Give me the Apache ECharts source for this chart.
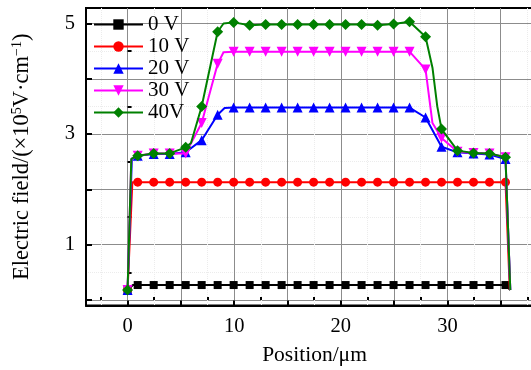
<!DOCTYPE html>
<html><head><meta charset="utf-8">
<script src="https://cdn.jsdelivr.net/npm/echarts@6/dist/echarts.min.js"></script>
<style>html,body{margin:0;padding:0;background:#fff}#c{width:531px;height:370px}</style>
</head><body><div id="c"></div>
<script>
// ---- data ----
const seriesNames = ['0 V', '10 V', '20 V', '30 V', '40V'];
const xMarks = [0, 0.95, 2.45, 3.95, 5.45, 6.95, 8.45, 9.95, 11.45, 12.95, 14.45, 15.95, 17.45, 18.95, 20.45, 21.95, 23.45, 24.95, 26.45, 27.95, 29.45, 30.95, 32.45, 33.95, 35.45];
const y0V  = [0.18, 0.27, 0.27, 0.27, 0.27, 0.27, 0.27, 0.27, 0.27, 0.27, 0.27, 0.27, 0.27, 0.27, 0.27, 0.27, 0.27, 0.27, 0.27, 0.27, 0.27, 0.27, 0.27, 0.27, 0.27];
const y10V = [0.18, 2.13, 2.13, 2.13, 2.13, 2.13, 2.13, 2.13, 2.13, 2.13, 2.13, 2.13, 2.13, 2.13, 2.13, 2.13, 2.13, 2.13, 2.13, 2.13, 2.13, 2.13, 2.13, 2.13, 2.13];
const y20V = [0.18, 2.61, 2.64, 2.64, 2.67, 2.89, 3.35, 3.48, 3.48, 3.48, 3.48, 3.48, 3.48, 3.48, 3.48, 3.48, 3.48, 3.48, 3.48, 3.30, 2.77, 2.67, 2.65, 2.63, 2.55];
const y30V = [0.18, 2.61, 2.65, 2.65, 2.65, 3.20, 4.27, 4.49, 4.49, 4.49, 4.49, 4.49, 4.49, 4.49, 4.49, 4.49, 4.49, 4.49, 4.49, 4.17, 2.93, 2.68, 2.66, 2.65, 2.58];
const y40V = [0.18, 2.61, 2.65, 2.65, 2.76, 3.50, 4.85, 5.02, 4.97, 4.98, 4.98, 4.98, 4.98, 4.98, 4.98, 4.98, 4.97, 4.99, 5.03, 4.76, 3.09, 2.70, 2.66, 2.65, 2.58];
// unmarked points along each curve
const extra0V  = [[0.5, 0.27], [35.9, 0.18]];
const extra10V = [[0.45, 2.13], [35.85, 0.18]];
const extra20V = [[0.4, 2.55], [9.1, 3.47], [35.9, 0.18]];
const extra30V = [[0.35, 2.55], [9.0, 4.48], [28.6, 3.2], [35.9, 0.18]];
const extra40V = [[0.35, 2.55], [5.95, 2.84], [9.0, 5.0], [28.6, 4.2], [29.05, 3.5], [35.9, 0.18]];
const xMajorTicks = [0, 5, 10, 15, 20, 25, 30, 35, 40];
const xMinorTicks = [-2.5, 2.5, 7.5, 12.5, 17.5, 22.5, 27.5, 32.5, 37.5];
const xTickLabels = [0, 10, 20, 30];
const yMajorTicks = [0, 1, 2, 3, 4, 5];
const yMinorTicks = [0.5, 1.5, 2.5, 3.5, 4.5];
const yTickLabels = [1, 3, 5];

const colors = ['#000000', '#ff0000', '#0000ff', '#ff00ff', '#008000'];
const symbols = ['rect', 'circle', 'triangle', 'path://M0,10 L-10,-8 L10,-8 Z', 'diamond'];
const symbolSizes = [8, 9, 10, 10, 11];
const yAll = [y0V, y10V, y20V, y30V, y40V];
const extras = [extra0V, extra10V, extra20V, extra30V, extra40V];

function buildData(ys, ex) {
  const pts = xMarks.map((x, i) => ({ value: [x, ys[i]] }));
  ex.forEach(p => pts.push({ value: p, symbol: 'none' }));
  pts.sort((a, b) => a.value[0] - b.value[0]);
  return pts;
}

const FONT = 'Liberation Serif';
const chart = echarts.init(document.getElementById('c'), null, { renderer: 'canvas' });
const series = seriesNames.map((n, k) => ({
  name: n, type: 'line', xAxisIndex: 0, yAxisIndex: 0,
  data: buildData(yAll[k], extras[k]),
  symbol: symbols[k], symbolSize: symbolSizes[k], showAllSymbol: true,
  lineStyle: { color: colors[k], width: 2 },
  itemStyle: { color: colors[k] },
  emphasis: { disabled: true }, animation: false, z: 3 + k
}));

chart.setOption({
  animation: false,
  grid: { left: 86, top: 8, width: 468, height: 297.5, outerBoundsMode: 'none', containLabel: false,
          show: true, borderColor: '#000', borderWidth: 2, backgroundColor: 'transparent' },
  legend: {
    orient: 'vertical', left: 88, top: 9, itemWidth: 49, itemHeight: 13, itemGap: 1,
    data: seriesNames,
    textStyle: { fontFamily: FONT, fontSize: 21, color: '#000', lineHeight: 20 }
  },
  xAxis: [{
    type: 'value', min: -3.9, max: 40, position: 'bottom',
    name: 'Position/μm', nameLocation: 'middle', nameGap: 39,
    nameTextStyle: { fontFamily: FONT, fontSize: 21.5, color: '#000', padding: [0, 11, 0, 0] },
    axisLine: { show: true, onZero: false, lineStyle: { color: '#000', width: 2 } },
    axisTick: { show: true, inside: true, length: 5, customValues: xMajorTicks, lineStyle: { color: '#000', width: 2 } },
    axisLabel: { customValues: xTickLabels, margin: 11, fontFamily: FONT, fontSize: 20.5, color: '#000' },
    splitLine: { show: true, lineStyle: { color: '#8c8c8c', width: 1 } }
  }, {
    type: 'value', min: -3.9, max: 40, position: 'bottom', gridIndex: 0,
    axisLine: { show: false },
    axisTick: { show: true, inside: true, length: 3, customValues: xMinorTicks, lineStyle: { color: '#000', width: 2 } },
    axisLabel: { show: false },
    splitLine: { show: true, lineStyle: { color: '#ececec', width: 1, type: 'dotted' } }
  }],
  yAxis: [{
    type: 'value', min: -0.1, max: 5.28, position: 'left',
    name: '{t|Electric field/(×10}{s|5}{t|V·cm}{s|−1}{t|)}', nameLocation: 'middle', nameGap: 52,
    nameTextStyle: { rich: {
      t: { fontFamily: FONT, fontSize: 22.5, color: '#000', lineHeight: 24 },
      s: { fontFamily: FONT, fontSize: 14, color: '#000', verticalAlign: 'top', lineHeight: 24 }
    } },
    axisLine: { show: true, onZero: false, lineStyle: { color: '#000', width: 2 } },
    axisTick: { show: true, inside: true, length: 6, customValues: yMajorTicks, lineStyle: { color: '#000', width: 2 } },
    axisLabel: { customValues: yTickLabels, margin: 11, fontFamily: FONT, fontSize: 20.5, color: '#000' },
    splitLine: { show: true, lineStyle: { color: '#8c8c8c', width: 1 } }
  }, {
    type: 'value', min: -0.1, max: 5.28, position: 'left', gridIndex: 0,
    axisLine: { show: false },
    axisTick: { show: true, inside: true, length: 4, customValues: yMinorTicks, lineStyle: { color: '#000', width: 2 } },
    axisLabel: { show: false },
    splitLine: { show: true, lineStyle: { color: '#ececec', width: 1, type: 'dotted' } }
  }],
  series: series
});
</script></body></html>
